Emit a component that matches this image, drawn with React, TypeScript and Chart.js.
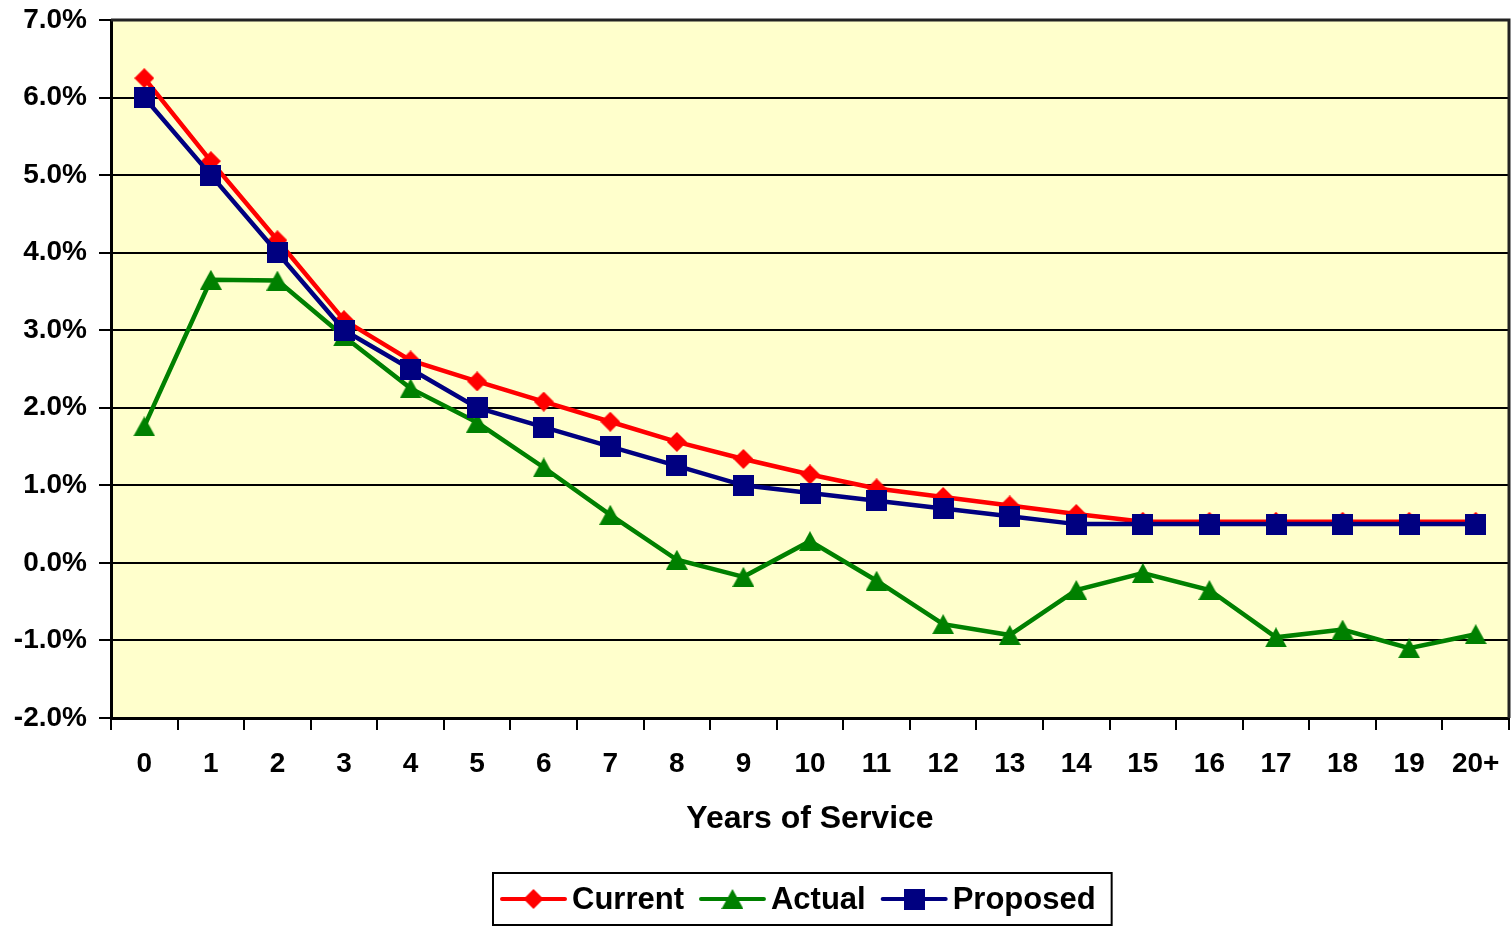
import React, { useEffect, useRef } from 'react';
import { Chart, registerables } from 'chart.js';

Chart.register(...registerables);

const FONT = '"Liberation Sans", Arial, Helvetica, sans-serif';

const categories = ['0', '1', '2', '3', '4', '5', '6', '7', '8', '9', '10', '11', '12', '13', '14', '15', '16', '17', '18', '19', '20+'];
const currentValues = [6.25, 5.18, 4.16, 3.13, 2.61, 2.34, 2.08, 1.82, 1.56, 1.34, 1.14, 0.96, 0.85, 0.74, 0.63, 0.53, 0.53, 0.53, 0.53, 0.53, 0.53];
const actualValues = [1.76, 3.65, 3.64, 2.92, 2.25, 1.81, 1.23, 0.62, 0.04, -0.18, 0.28, -0.23, -0.79, -0.93, -0.35, -0.13, -0.35, -0.96, -0.86, -1.1, -0.92];
const proposedValues = [6.0, 5.0, 4.0, 3.0, 2.5, 2.0, 1.75, 1.5, 1.25, 1.0, 0.9, 0.8, 0.7, 0.6, 0.5, 0.5, 0.5, 0.5, 0.5, 0.5, 0.5];
const seriesNames = ['Current', 'Actual', 'Proposed'];
const seriesColors = ['#FF0000', '#008000', '#000080'];
const seriesMarkers = ['diamond', 'triangle', 'square'];
const yMin = -2;
const yMax = 7;
const yStep = 1;
const xTitle = 'Years of Service';

function makeMarker(kind: string, color: string): HTMLCanvasElement {
  const c = document.createElement('canvas');
  let w = 21, h = 21;
  if (kind === 'diamond') { w = 20; h = 20; }
  if (kind === 'triangle') { w = 22; h = 20; }
  c.width = w; c.height = h;
  const ctx = c.getContext('2d')!;
  ctx.fillStyle = color;
  ctx.beginPath();
  if (kind === 'square') {
    ctx.rect(0, 0, w, h);
  } else if (kind === 'diamond') {
    ctx.moveTo(w / 2, 0); ctx.lineTo(w, h / 2); ctx.lineTo(w / 2, h); ctx.lineTo(0, h / 2);
  } else {
    ctx.moveTo(w / 2, 0); ctx.lineTo(w, h); ctx.lineTo(0, h);
  }
  ctx.closePath();
  ctx.fill();
  return c;
}

function zeroPadding(s: any) {
  s.paddingTop = 0;
  s.paddingBottom = 0;
  s.paddingLeft = 0;
  s.paddingRight = 0;
}

export default function App() {
  const ref = useRef<HTMLCanvasElement>(null);
  useEffect(() => {
    document.body.style.margin = '0';
    const markers = seriesMarkers.map((m, i) => makeMarker(m, seriesColors[i]));
    const values = [currentValues, actualValues, proposedValues];

    const bgPlugin = {
      id: 'bgPlugin',
      beforeDraw(chart: any) {
        const { ctx, chartArea: a } = chart;
        ctx.save();
        ctx.fillStyle = '#FFFFCC';
        ctx.fillRect(a.left, a.top, a.right - a.left, a.bottom - a.top);
        ctx.restore();
      },
      beforeDatasetsDraw(chart: any) {
        const { ctx, chartArea: a } = chart;
        ctx.save();
        ctx.strokeStyle = '#222';
        ctx.lineWidth = 3;
        ctx.beginPath();
        ctx.moveTo(a.left, a.top);
        ctx.lineTo(a.right, a.top);
        ctx.lineTo(a.right, a.bottom);
        ctx.stroke();
        ctx.restore();
      },
    };

    const legendPlugin = {
      id: 'boxLegend',
      afterDraw(chart: any) {
        const { ctx } = chart;
        ctx.save();
        ctx.font = `bold 31px ${FONT}`;
        ctx.textBaseline = 'middle';
        const lineLen = 63, textGap = 7, itemGap = 17, padL = 9, padR = 16;
        const widths = seriesNames.map((n) => ctx.measureText(n).width);
        let total = padL + padR + itemGap * (seriesNames.length - 1);
        widths.forEach((w) => { total += lineLen + textGap + w; });
        const cx = 802.5;
        const cy = 899;
        const boxH = 52;
        const left = Math.round(cx - total / 2);
        ctx.strokeStyle = '#000';
        ctx.lineWidth = 2;
        ctx.strokeRect(left, cy - boxH / 2, total, boxH);
        let x = left + padL;
        seriesNames.forEach((n, i) => {
          ctx.strokeStyle = seriesColors[i];
          ctx.lineWidth = 4;
          ctx.lineCap = 'round';
          ctx.beginPath();
          ctx.moveTo(x, cy);
          ctx.lineTo(x + lineLen, cy);
          ctx.stroke();
          const m = markers[i];
          ctx.drawImage(m, x + lineLen / 2 - m.width / 2, cy - m.height / 2);
          x += lineLen + textGap;
          ctx.fillStyle = '#000';
          ctx.fillText(n, x, cy + 1);
          x += widths[i] + itemGap;
        });
        ctx.restore();
      },
    };

    const chart = new Chart(ref.current!, {
      type: 'line',
      data: {
        labels: categories,
        datasets: seriesNames.map((name, i) => ({
          label: name,
          data: values[i],
          borderColor: seriesColors[i],
          backgroundColor: seriesColors[i],
          borderWidth: 4.5,
          tension: 0,
          pointStyle: markers[i] as any,
          pointRadius: 10,
          pointHoverRadius: 10,
          order: seriesNames.length - i,
          fill: false,
        })),
      },
      options: {
        responsive: false,
        devicePixelRatio: 1,
        animation: false,
        events: [],
        layout: { autoPadding: false, padding: { top: 20, right: 3, left: 0, bottom: 74 } },
        plugins: {
          legend: { display: false },
          tooltip: { enabled: false },
        },
        scales: {
          x: {
            type: 'category',
            offset: true,
            grid: {
              display: true,
              drawOnChartArea: false,
              drawTicks: true,
              tickLength: 12,
              color: '#000',
              lineWidth: 2,
              offset: true,
            },
            border: { display: true, color: '#000', width: 3 },
            ticks: {
              font: { family: FONT, size: 28, weight: 'bold' },
              color: '#000',
              padding: 17,
              maxRotation: 0,
              autoSkip: false,
            },
            title: {
              display: true,
              text: xTitle,
              font: { family: FONT, size: 32, weight: 'bold' },
              color: '#000',
              padding: { top: 0, bottom: 20 },
            },
            afterFit(s: any) { s.height = 140; zeroPadding(s); },
          },
          y: {
            min: yMin,
            max: yMax,
            ticks: {
              stepSize: yStep,
              callback: (v: any) => Number(v).toFixed(1) + '%',
              font: { family: FONT, size: 28, weight: 'bold' },
              color: '#000',
              padding: 12,
            },
            grid: { color: '#000', lineWidth: 2, tickLength: 12, drawTicks: true },
            border: { display: true, color: '#000', width: 3 },
            afterFit(s: any) { s.width = 111; zeroPadding(s); },
          },
        },
      },
      plugins: [bgPlugin, legendPlugin],
    } as any);
    return () => chart.destroy();
  }, []);

  return (
    <div style={{ position: 'fixed', left: 0, top: 0, width: 1512, height: 932, background: '#fff' }}>
      <canvas ref={ref} width={1512} height={932} style={{ display: 'block', width: 1512, height: 932 }} />
    </div>
  );
}
